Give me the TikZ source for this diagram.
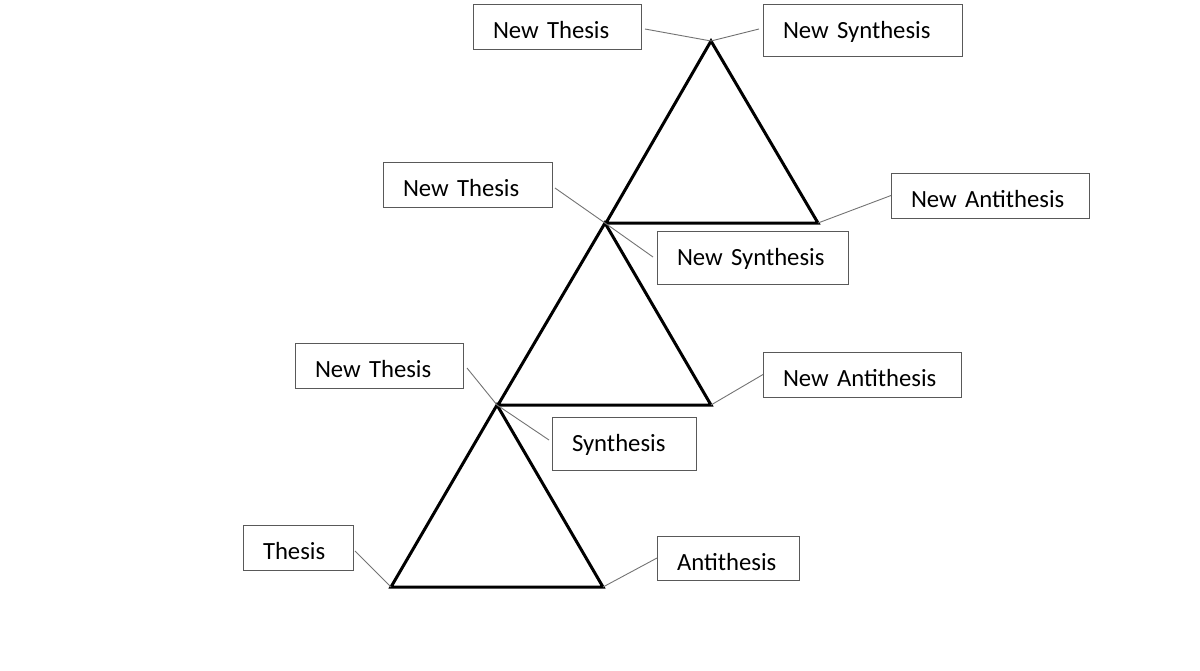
\documentclass[tikz,border=0pt]{standalone}
\usepackage{fontspec}
\setmainfont{Carlito}
\usetikzlibrary{calc}
\begin{document}
\begin{tikzpicture}[x=1pt,y=-1pt,
  box/.style={draw=black!65,line width=1pt,inner xsep=20pt,inner ysep=0pt,outer sep=0pt,
    anchor=north west,align=left,text height=34pt,
    font=\fontsize{24.7}{30}\selectfont},
  tri/.style={line width=3pt,line join=miter,draw=black},
  conn/.style={draw=black!55,line width=0.9pt}]
\useasboundingbox (0,0) rectangle (1200,670);
% boxes
\node[box,text width=128pt,text depth=11pt] (nt3) at (473,4) {New Thesis};
\node[box,text width=159pt,text depth=18pt] (ns3) at (763,4) {New Synthesis};
\node[box,text width=129pt,text depth=11pt] (nt2) at (383,162) {New Thesis};
\node[box,text width=158pt,text depth=11pt] (na3) at (891,173) {New Antithesis};
\node[box,text width=151pt,text depth=19pt] (ns2) at (657,231) {New Synthesis};
\node[box,text width=128pt,text depth=11pt] (nt1) at (295,343) {New Thesis};
\node[box,text width=158pt,text depth=11pt] (na2) at (763,352) {New Antithesis};
\node[box,text width=104pt,text depth=19pt] (syn) at (552,417) {Synthesis};
\node[box,text width=70pt,text depth=11pt] (th) at (243,525) {Thesis};
\node[box,text width=102pt,text depth=10pt] (an) at (657,536) {Antithesis};
% triangle vertices
\coordinate (A1) at (497,405);
\coordinate (L1) at (391,587);
\coordinate (R1) at (603,587);
\coordinate (A2) at (605,223);
\coordinate (L2) at (498,405);
\coordinate (R2) at (711,405);
\coordinate (A3) at (711,41);
\coordinate (L3) at (606,223);
\coordinate (R3) at (818,223);
\draw[tri] (A1) -- (L1) -- (R1) -- cycle;
\draw[tri] (A2) -- (L2) -- (R2) -- cycle;
\draw[tri] (A3) -- (L3) -- (R3) -- cycle;
% connector ends near boxes
\coordinate (c1) at ($(nt3.east)+(4,2.5)$);
\coordinate (c2) at ($(ns3.west)+(-4,-1)$);
\coordinate (c3) at ($(nt2.east)+(3,3.5)$);
\coordinate (c4) at ($(ns2.west)+(-4,-0.5)$);
\coordinate (c6) at ($(nt1.east)+(4,2.5)$);
\coordinate (c7) at ($(syn.west)+(-3,-3.5)$);
\coordinate (c9) at ($(th.east)+(2,3.5)$);
% connectors
\draw[conn] (c1) -- (A3);
\draw[conn] (A3) -- (c2);
\draw[conn] (c3) -- (A2);
\draw[conn] (A2) -- (c4);
\draw[conn] (R3) -- (na3.west);
\draw[conn] (c6) -- (A1);
\draw[conn] (A1) -- (c7);
\draw[conn] (R2) -- (na2.west);
\draw[conn] (c9) -- (L1);
\draw[conn] (R1) -- (an.west);
\end{tikzpicture}
\end{document}
